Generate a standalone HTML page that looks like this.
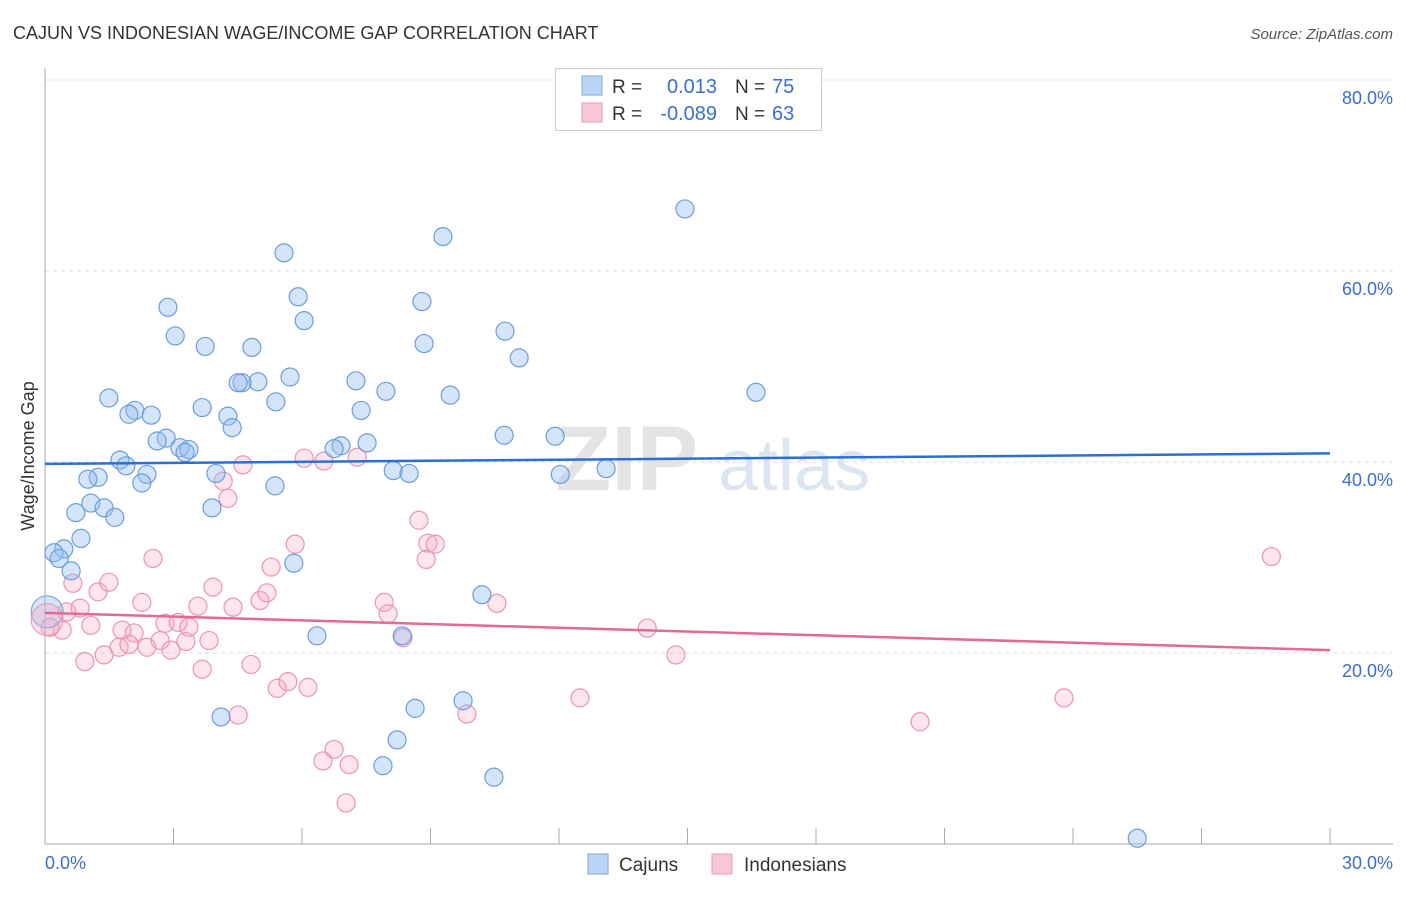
<!DOCTYPE html>
<html><head><meta charset="utf-8"><style>
body{margin:0;background:#fff;font-family:"Liberation Sans",sans-serif}
svg text{font-family:"Liberation Sans",sans-serif}
</style></head><body>
<svg id="chart" width="1406" height="892" xmlns="http://www.w3.org/2000/svg">
<text x="13" y="39" font-size="18" fill="#333">CAJUN VS INDONESIAN WAGE/INCOME GAP CORRELATION CHART</text>
<text x="1393" y="39" font-size="15" fill="#555" text-anchor="end" font-style="italic">Source: ZipAtlas.com</text>
<g>
<text x="555" y="490" font-size="92" fill="#e4e4e4" font-family="Liberation Serif" font-weight="bold">ZIP</text>
<text x="718" y="490" font-size="72" fill="#dce6f3">atlas</text>
</g>
<g id="grid"></g>
<g id="axes"></g>
<g id="pts"></g>
<g id="trends"></g>
<text transform="translate(34,456) rotate(-90)" font-size="18" fill="#333" text-anchor="middle">Wage/Income Gap</text>
<g>
<rect x="555.5" y="68.5" width="266" height="62" fill="#fff" stroke="#ccc"/>
<rect x="582" y="76" width="20" height="19" fill="#bcd5f5" stroke="#7aa7e0"/>
<rect x="582" y="103" width="20" height="19" fill="#f8c8d8" stroke="#ec9ab5"/>
<text x="612" y="93" font-size="19" fill="#333">R =</text>
<text x="717" y="93" font-size="20" fill="#3a6fcf" text-anchor="end">0.013</text>
<text x="735" y="93" font-size="19" fill="#333">N =</text>
<text x="772" y="93" font-size="20" fill="#3a6fcf">75</text>
<text x="612" y="120" font-size="19" fill="#333">R =</text>
<text x="717" y="120" font-size="20" fill="#3a6fcf" text-anchor="end">-0.089</text>
<text x="735" y="120" font-size="19" fill="#333">N =</text>
<text x="772" y="120" font-size="20" fill="#3a6fcf">63</text>
</g>
<g>
<rect x="588" y="854" width="20" height="20" fill="#bcd5f5" stroke="#7aa7e0"/>
<text x="619" y="871" font-size="19" fill="#333">Cajuns</text>
<rect x="712" y="854" width="20" height="20" fill="#f8c8d8" stroke="#ec9ab5"/>
<text x="744" y="871" font-size="19" fill="#333">Indonesians</text>
</g>
</svg>
<script>
const yTicks=[20,40,60,80];
const yTickLabels=["20.0%","40.0%","60.0%","80.0%"];
const xTicks=[0,3,6,9,12,15,18,21,24,27,30];
const xEndLabels=["0.0%","30.0%"];
const cajunX=[17.63,14.94,9.29,5.58,5.91,8.80,2.87,6.05,10.74,3.04,3.74,8.85,4.83,11.07,5.72,4.97,4.60,4.51,7.26,7.96,9.46,16.60,1.49,5.39,3.67,7.38,2.10,1.96,2.48,4.27,4.37,10.72,11.91,2.83,2.62,3.15,3.36,7.52,6.91,6.75,3.27,1.75,1.89,3.99,2.38,8.13,8.50,12.03,13.10,1.24,1.00,2.26,5.37,1.07,3.90,1.38,0.72,1.63,0.84,0.44,0.21,0.33,0.61,5.81,10.20,8.34,6.35,9.76,4.11,8.64,8.22,7.89,10.48,25.50];
const cajunY=[79.9,66.5,63.6,61.9,57.3,56.8,56.2,54.8,53.7,53.2,52.1,52.4,52.0,50.9,48.9,48.4,48.3,48.3,48.5,47.4,47.0,47.3,46.7,46.3,45.7,45.4,45.4,45.0,44.9,44.8,43.6,42.8,42.7,42.5,42.2,41.5,41.3,42.0,41.7,41.4,41.0,40.2,39.6,38.8,38.7,39.1,38.8,38.7,39.3,38.4,38.2,37.8,37.5,35.7,35.2,35.2,34.7,34.2,32.0,30.9,30.5,29.9,28.6,29.4,26.1,21.8,21.8,15.0,13.3,14.2,10.9,8.2,7.0,0.6];
const indoX=[2.52,0.65,1.24,1.49,2.26,0.51,0.82,1.07,0.40,0.12,1.80,2.08,1.73,1.96,2.38,2.69,2.94,2.80,3.11,3.36,3.29,3.57,3.92,3.83,4.39,0.93,1.38,3.67,4.81,4.62,4.16,4.27,5.84,5.02,5.18,5.28,5.42,5.67,6.14,4.51,6.05,6.51,7.29,8.73,8.94,9.11,8.90,7.92,8.01,8.36,6.75,6.49,7.10,7.03,9.85,10.55,12.49,14.06,14.73,20.43,23.79,28.63];
const indoY=[29.9,27.3,26.4,27.4,25.3,24.3,24.7,22.9,22.4,22.7,22.4,22.1,20.6,20.9,20.6,21.3,20.3,23.1,23.2,22.7,21.2,24.9,26.9,21.3,24.8,19.1,19.8,18.3,18.8,39.7,38.0,36.2,31.4,25.5,26.3,29.0,16.3,17.0,16.4,13.5,40.4,40.1,40.5,33.9,31.5,31.4,29.8,25.3,24.1,21.6,9.9,8.7,8.3,4.3,13.6,25.2,15.3,22.6,19.8,12.8,15.3,30.1];
const bigX=[0.05,0.05];
const bigY=[24.3,23.5];
const cajunTrend=[39.8,40.9];
const indoTrend=[24.2,20.3];
const NS="http://www.w3.org/2000/svg";
const X0=45,X1=1330,Y0=844,Y80=80;
const sx=v=>X0+(v/30)*(X1-X0);
const sy=v=>Y0-(v/80)*(Y0-Y80);
function mk(tag,attrs,parent){const e=document.createElementNS(NS,tag);for(const k in attrs)e.setAttribute(k,attrs[k]);parent.appendChild(e);return e;}
const grid=document.getElementById('grid'),axes=document.getElementById('axes'),pts=document.getElementById('pts'),tr=document.getElementById('trends');
yTicks.forEach((t,i)=>{
 const l=mk('line',{x1:X0,x2:1393,y1:sy(t),y2:sy(t),stroke:'#ddd','stroke-dasharray':'4,4'},grid);
 
 
 const tx=mk('text',{x:1393,y:sy(t)+24,'font-size':18,fill:'#3a6fcf','text-anchor':'end'},axes);
 tx.textContent=yTickLabels[i];
 
 
});
mk('line',{x1:X0,x2:X0,y1:68,y2:Y0,stroke:'#aaa'},axes);
mk('line',{x1:X0,x2:1393,y1:Y0,y2:Y0,stroke:'#aaa'},axes);
xTicks.forEach(t=>{
 const l=mk('line',{x1:sx(t),x2:sx(t),y1:828,y2:Y0,stroke:'#aaa'},axes);
 
 
});
const xl0=mk('text',{x:45,y:869,'font-size':18,fill:'#3a6fcf'},axes);xl0.textContent=xEndLabels[0];


const xl1=mk('text',{x:1393,y:869,'font-size':18,fill:'#3a6fcf','text-anchor':'end'},axes);xl1.textContent=xEndLabels[1];


indoX.forEach((x,i)=>{
 const c=mk('circle',{cx:sx(x),cy:sy(indoY[i]),r:9,fill:'rgba(244,170,196,0.3)',stroke:'#eb94b2','stroke-width':1.2},pts);
 
 
});
cajunX.forEach((x,i)=>{
 const c=mk('circle',{cx:sx(x),cy:sy(cajunY[i]),r:9,fill:'rgba(150,190,240,0.4)',stroke:'#6b9ddb','stroke-width':1.2},pts);
 
 
});
bigX.forEach((x,i)=>{
 const c=mk('circle',{cx:sx(x),cy:sy(bigY[i]),r:16,fill:i?'rgba(244,170,196,0.35)':'rgba(150,190,240,0.4)',stroke:i?'#eb94b2':'#6b9ddb'},pts);
 
 
});
const t1=mk('line',{x1:sx(0),x2:sx(30),y1:sy(cajunTrend[0]),y2:sy(cajunTrend[1]),stroke:'#2a6fd6','stroke-width':2.5},tr);


const t2=mk('line',{x1:sx(0),x2:sx(30),y1:sy(indoTrend[0]),y2:sy(indoTrend[1]),stroke:'#e46a93','stroke-width':2.5},tr);


</script>
</body></html>
